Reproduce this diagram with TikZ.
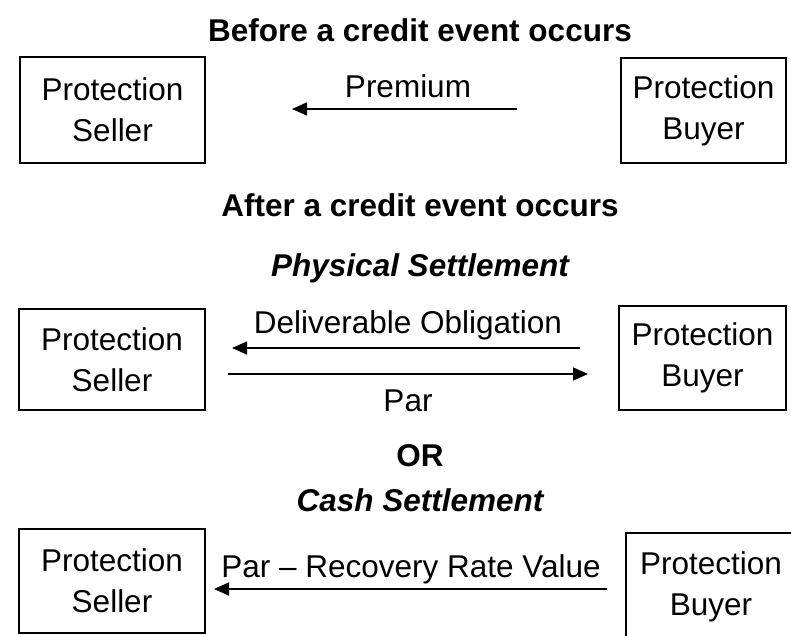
\documentclass[tikz,border=0pt]{standalone}
\usepackage{fontspec}
\setmainfont{Liberation Sans}
\usetikzlibrary{arrows.meta, positioning}

\newcommand{\cdsfont}{\fontsize{31.5}{41}\selectfont}

\begin{document}
\begin{tikzpicture}[x=1pt, y=-1pt,
    party/.style={draw, line width=1.6pt, align=center, inner sep=0pt, font=\cdsfont},
    flow/.style={line width=1.6pt, -{Triangle[length=15pt, width=13pt]}},
    lbl/.style={anchor=base, inner sep=0pt, font=\cdsfont},
    head/.style={anchor=base, inner sep=0pt, font=\cdsfont\bfseries},
    headit/.style={anchor=base, inner sep=0pt, font=\cdsfont\bfseries\itshape}]
    \useasboundingbox (0,0) rectangle (791,635);
    \clip (0,0) rectangle (791,635);

    % Before a credit event
    \node[head] (before) at (420,41) {Before a credit event occurs};
    \node[party, minimum width=185pt, minimum height=106pt] (seller1) at (112.5,110) {Protection\\Seller};
    \node[party, minimum width=165pt, minimum height=105pt] (buyer1) at (703.5,110.5) {Protection\\Buyer};
    \node[lbl] (premium) at (408,97) {Premium};
    \coordinate (p1s) at (517,109);
    \coordinate (p1e) at (292,109);
    \draw[flow] (p1s) -- (p1e);

    % After a credit event
    \node[head] (after) at (420,216) {After a credit event occurs};
    \node[headit] (physical) at (420,276) {Physical Settlement};

    % Physical settlement
    \node[party, minimum width=186pt, minimum height=101pt] (seller2) at (112,359.5) {Protection\\Seller};
    \node[party, minimum width=167pt, minimum height=104pt] (buyer2) at (702.5,358) {Protection\\Buyer};
    \node[lbl] (deliv) at (408,333) {Deliverable Obligation};
    \node[lbl] (par) at (408,411) {Par};
    \coordinate (d2s) at (580,348);
    \coordinate (d2e) at (232,348);
    \coordinate (p2s) at (228,374);
    \coordinate (p2e) at (588,374);
    \draw[flow] (d2s) -- (d2e);
    \draw[flow] (p2s) -- (p2e);

    \node[head] (or) at (420,466) {OR};
    \node[headit] (cash) at (420,511) {Cash Settlement};

    % Cash settlement
    \node[party, minimum width=186pt, minimum height=104pt] (seller3) at (112,581) {Protection\\Seller};
    \node[party, minimum width=170pt, minimum height=108pt] (buyer3) at (711,587) {Protection\\Buyer};
    \node[lbl] (recov) at (411,577) {Par -- Recovery Rate Value};
    \coordinate (c3s) at (607,589);
    \coordinate (c3e) at (214,589);
    \draw[flow] (c3s) -- (c3e);
\end{tikzpicture}
\end{document}
